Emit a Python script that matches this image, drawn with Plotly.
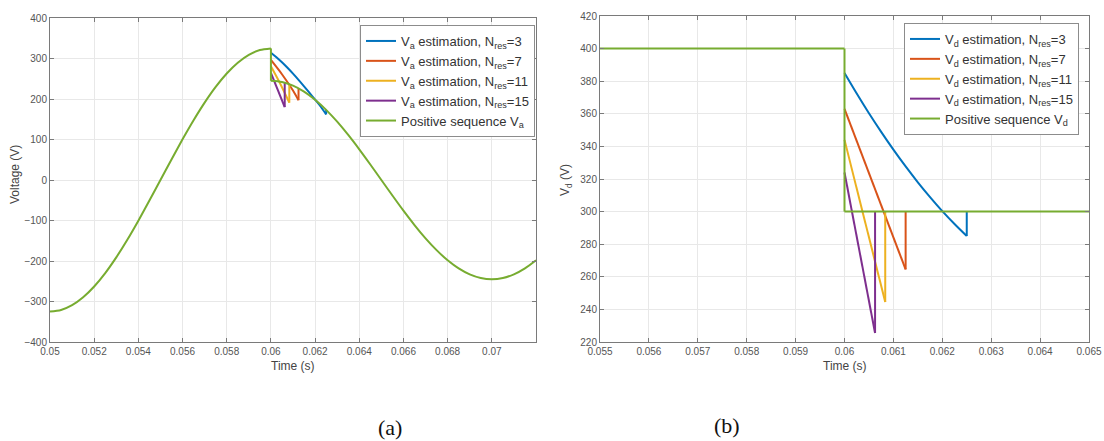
import plotly.graph_objects as go

# ---------------- data: phase-a voltage (left panel) ----------------
t_va_pos = [0.05, 0.0505, 0.051, 0.0515, 0.052, 0.0525, 0.053, 0.0535, 0.054, 0.0545,
            0.055, 0.0555, 0.056, 0.0565, 0.057, 0.0575, 0.058, 0.0585, 0.059, 0.0595,
            0.06, 0.06, 0.0605, 0.061, 0.0615, 0.062, 0.0625, 0.063, 0.0635, 0.064,
            0.0645, 0.065, 0.0655, 0.066, 0.0665, 0.067, 0.0675, 0.068, 0.0685, 0.069,
            0.0695, 0.07, 0.0705, 0.071, 0.0715, 0.072]
va_pos = [-325, -321.0, -309.1, -289.6, -262.9, -229.8, -191.0, -147.5, -100.4, -50.8,
          0, 50.8, 100.4, 147.5, 191.0, 229.8, 262.9, 289.6, 309.1, 321.0,
          325, 245, 242.0, 233.0, 218.3, 198.2, 173.2, 144.0, 111.2, 75.7,
          38.3, 0, -38.3, -75.7, -111.2, -144.0, -173.2, -198.2, -218.3, -233.0,
          -242.0, -245, -242.0, -233.0, -218.3, -198.2]

t_va_n3 = [0.06, 0.06025, 0.0605, 0.06075, 0.061, 0.06125, 0.0615, 0.06175, 0.062,
           0.06225, 0.0625, 0.0625]
va_n3 = [314.4, 303.1, 290.6, 277.0, 262.5, 247.2, 231.3, 215.0, 198.4, 181.5, 162.0, 173.2]

t_va_n7 = [0.06, 0.0605, 0.061, 0.06125, 0.06125]
va_n7 = [296.4, 261.1, 221.0, 197.0, 226.3]

t_va_n11 = [0.06, 0.0604, 0.060833, 0.060833]
va_n11 = [280.9, 240.2, 191.0, 236.6]

t_va_n15 = [0.06, 0.060625, 0.060625]
va_n15 = [264.5, 180.0, 240.3]

# ---------------- data: d-axis voltage (right panel) ----------------
t_vd_pos = [0.055, 0.06, 0.06, 0.065]
vd_pos = [400, 400, 300, 300]

t_vd_n3 = [0.06, 0.06025, 0.0605, 0.06075, 0.061, 0.06125, 0.0615, 0.06175, 0.062,
           0.06225, 0.0625, 0.0625]
vd_n3 = [385, 372.4, 360.3, 348.9, 338.0, 327.7, 318.0, 308.9, 300.3, 292.4, 285, 300]

t_vd_n7 = [0.06, 0.06125, 0.06125]
vd_n7 = [363, 264.5, 300]

t_vd_n11 = [0.06, 0.060833, 0.060833]
vd_n11 = [344, 244.5, 300]

t_vd_n15 = [0.06, 0.060625, 0.060625]
vd_n15 = [324, 225.5, 300]

# ---------------- ticks ----------------
xl_ticks = [0.05, 0.052, 0.054, 0.056, 0.058, 0.06, 0.062, 0.064, 0.066, 0.068, 0.07]
xl_text = ["0.05", "0.052", "0.054", "0.056", "0.058", "0.06", "0.062", "0.064",
           "0.066", "0.068", "0.07"]
yl_ticks = [-400, -300, -200, -100, 0, 100, 200, 300, 400]
xr_ticks = [0.055, 0.056, 0.057, 0.058, 0.059, 0.06, 0.061, 0.062, 0.063, 0.064, 0.065]
xr_text = ["0.055", "0.056", "0.057", "0.058", "0.059", "0.06", "0.061", "0.062",
           "0.063", "0.064", "0.065"]
yr_ticks = [220, 240, 260, 280, 300, 320, 340, 360, 380, 400, 420]

C_BLUE, C_RED, C_YEL, C_PUR, C_GRN = "#0072BD", "#D95319", "#EDB120", "#7E2F8E", "#77AC30"
LW = 2


def with_breaks(t, v):
    """Insert gaps around vertical jumps (repeated time stamps) so each smooth
    stretch is splined on its own while the jump is drawn as a straight edge."""
    xs, ys = [t[0]], [v[0]]
    for i in range(1, len(t)):
        if t[i] == t[i - 1]:
            xs += [None, t[i - 1], t[i], None, t[i]]
            ys += [None, v[i - 1], v[i], None, v[i]]
        else:
            xs.append(t[i])
            ys.append(v[i])
    return xs, ys


fig = go.Figure()

left = [
    (t_va_n3, va_n3, C_BLUE, "V<sub>a</sub> estimation, N<sub>res</sub>=3"),
    (t_va_n7, va_n7, C_RED, "V<sub>a</sub> estimation, N<sub>res</sub>=7"),
    (t_va_n11, va_n11, C_YEL, "V<sub>a</sub> estimation, N<sub>res</sub>=11"),
    (t_va_n15, va_n15, C_PUR, "V<sub>a</sub> estimation, N<sub>res</sub>=15"),
    (t_va_pos, va_pos, C_GRN, "Positive sequence V<sub>a</sub>"),
]
right = [
    (t_vd_n3, vd_n3, C_BLUE, "V<sub>d</sub> estimation, N<sub>res</sub>=3"),
    (t_vd_n7, vd_n7, C_RED, "V<sub>d</sub> estimation, N<sub>res</sub>=7"),
    (t_vd_n11, vd_n11, C_YEL, "V<sub>d</sub> estimation, N<sub>res</sub>=11"),
    (t_vd_n15, vd_n15, C_PUR, "V<sub>d</sub> estimation, N<sub>res</sub>=15"),
    (t_vd_pos, vd_pos, C_GRN, "Positive sequence V<sub>d</sub>"),
]

for series, xa, ya, lg in ((left, "x", "y", "legend"), (right, "x2", "y2", "legend2")):
    for x, y, c, name in series:
        xs, ys = with_breaks(x, y)
        fig.add_trace(go.Scatter(x=xs, y=ys, mode="lines", name=name,
                                 connectgaps=False,
                                 line=dict(color=c, width=LW, shape="spline",
                                           smoothing=0.8),
                                 xaxis=xa, yaxis=ya, legend=lg))

W, H = 1104, 441
FONT = "Liberation Sans, Arial, sans-serif"
tickfont = dict(family=FONT, size=10, color="#555555")
axis_common = dict(showline=True, linecolor="#7a7a7a", linewidth=1, mirror="ticks",
                   ticks="inside", ticklen=4, tickcolor="#7a7a7a",
                   showgrid=True, gridcolor="#e8e8e8", gridwidth=1,
                   zeroline=False, tickfont=tickfont, automargin=False)

legend_common = dict(bgcolor="white", bordercolor="#8c8c8c", borderwidth=1,
                     font=dict(family=FONT, size=13, color="#333333"),
                     itemwidth=30, tracegroupgap=0)

fig.update_layout(
    width=W, height=H,
    margin=dict(l=0, r=0, t=0, b=0),
    paper_bgcolor="white", plot_bgcolor="white",
    font=dict(family=FONT, color="#333333"),
    xaxis=dict(domain=[50 / W, 536 / W], range=[0.05, 0.072],
               tickvals=xl_ticks, ticktext=xl_text, anchor="y", **axis_common),
    yaxis=dict(domain=[1 - 342 / H, 1 - 18 / H], range=[-400, 400],
               tickvals=yl_ticks, anchor="x", **axis_common),
    xaxis2=dict(domain=[600 / W, 1089 / W], range=[0.055, 0.065],
                tickvals=xr_ticks, ticktext=xr_text, anchor="y2", **axis_common),
    yaxis2=dict(domain=[1 - 342 / H, 1 - 16 / H], range=[220, 420],
                tickvals=yr_ticks, anchor="x2", **axis_common),
    legend=dict(x=535 / W, xanchor="right", y=1 - 25 / H, yanchor="top",
                **legend_common),
    legend2=dict(x=1079 / W, xanchor="right", y=1 - 23 / H, yanchor="top",
                 **legend_common),
    showlegend=True,
)

title_font = dict(family=FONT, size=12, color="#444444")
annotations = [
    dict(text="Time (s)", x=293 / W, y=1 - 366 / H, xref="paper", yref="paper",
         showarrow=False, font=title_font, xanchor="center", yanchor="middle"),
    dict(text="Time (s)", x=845 / W, y=1 - 366 / H, xref="paper", yref="paper",
         showarrow=False, font=title_font, xanchor="center", yanchor="middle"),
    dict(text="Voltage (V)", x=15 / W, y=1 - 175 / H, xref="paper", yref="paper",
         showarrow=False, font=title_font, textangle=-90,
         xanchor="center", yanchor="middle"),
    dict(text="V<sub>d</sub> (V)", x=566 / W, y=1 - 180 / H, xref="paper", yref="paper",
         showarrow=False, font=title_font, textangle=-90,
         xanchor="center", yanchor="middle"),
    dict(text="(a)", x=390 / W, y=1 - 427 / H, xref="paper", yref="paper",
         showarrow=False, xanchor="center", yanchor="middle",
         font=dict(family="Liberation Serif, Times New Roman, serif", size=22,
                   color="#111111")),
    dict(text="(b)", x=727 / W, y=1 - 425 / H, xref="paper", yref="paper",
         showarrow=False, xanchor="center", yanchor="middle",
         font=dict(family="Liberation Serif, Times New Roman, serif", size=22,
                   color="#111111")),
]
fig.update_layout(annotations=annotations)

fig.write_html("out.html")
